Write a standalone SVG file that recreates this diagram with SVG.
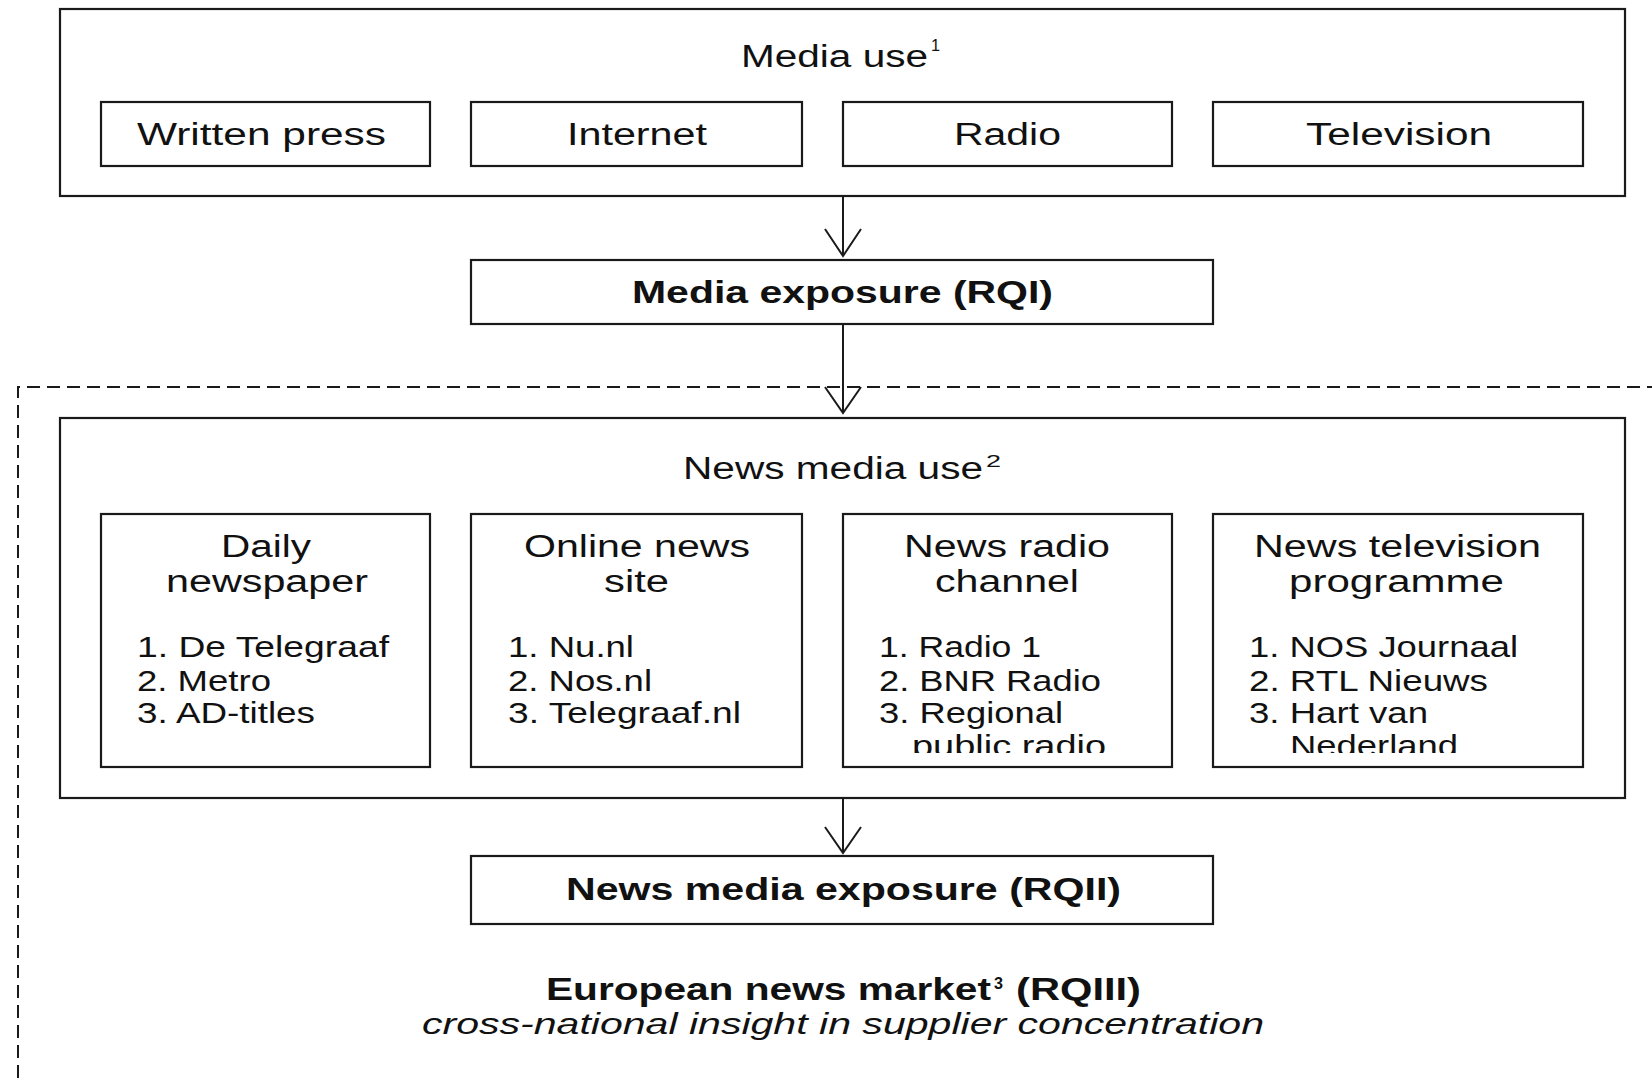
<svg xmlns="http://www.w3.org/2000/svg" width="1652" height="1085" viewBox="0 0 1652 1085">
<style>
text{font-family:"Liberation Sans",Arial,Helvetica,sans-serif;fill:#111;}
.t{font-size:31px;}
.l{font-size:29.5px;}
.b{font-weight:bold;font-size:31px;}
.i{font-style:italic;font-size:29px;}
.sup{font-size:17px;}
.box{fill:#fff;stroke:#1a1a1a;stroke-width:2.2;}
.conn{stroke:#1a1a1a;stroke-width:2;fill:none;}
.dash{stroke:#1a1a1a;stroke-width:2;fill:none;stroke-dasharray:13 7;}
</style>
<defs>
<clipPath id="c3"><rect x="843" y="514" width="329" height="239"/></clipPath>
<clipPath id="c4"><rect x="1213" y="514" width="370" height="239"/></clipPath>
</defs>
<rect width="1652" height="1085" fill="#fff"/>

<g id="scope">
<path class="dash" d="M1660,387 H18 V1090"/>
</g>

<g id="media-use">
<rect class="box" x="60" y="9" width="1565" height="187"/>
<text class="t" x="741" y="67" textLength="187" lengthAdjust="spacingAndGlyphs">Media use</text>
<text class="sup" x="931" y="51" textLength="9" lengthAdjust="spacingAndGlyphs">1</text>
</g>
<g id="written-press">
<rect class="box" x="101" y="102" width="329" height="64"/>
<text class="t" x="137" y="145" textLength="249" lengthAdjust="spacingAndGlyphs">Written press</text>
</g>
<g id="internet">
<rect class="box" x="471" y="102" width="331" height="64"/>
<text class="t" x="567" y="145" textLength="140" lengthAdjust="spacingAndGlyphs">Internet</text>
</g>
<g id="radio">
<rect class="box" x="843" y="102" width="329" height="64"/>
<text class="t" x="954" y="145" textLength="107" lengthAdjust="spacingAndGlyphs">Radio</text>
</g>
<g id="television">
<rect class="box" x="1213" y="102" width="370" height="64"/>
<text class="t" x="1306" y="145" textLength="186" lengthAdjust="spacingAndGlyphs">Television</text>
</g>

<g id="media-exposure">
<rect class="box" x="471" y="260" width="742" height="64"/>
<text class="b" x="632" y="303" textLength="421" lengthAdjust="spacingAndGlyphs">Media exposure (RQI)</text>
</g>

<g id="news-media-use">
<rect class="box" x="60" y="418" width="1565" height="380"/>
<text class="t" x="683" y="479" textLength="300" lengthAdjust="spacingAndGlyphs">News media use</text>
<text class="sup" x="986" y="467" textLength="15" lengthAdjust="spacingAndGlyphs">2</text>
</g>
<g id="daily-newspaper">
<rect class="box" x="101" y="514" width="329" height="253"/>
<text class="t" x="221" y="557" textLength="90" lengthAdjust="spacingAndGlyphs">Daily</text>
<text class="t" x="166" y="592" textLength="202" lengthAdjust="spacingAndGlyphs">newspaper</text>
<text class="l" x="137" y="657" textLength="252" lengthAdjust="spacingAndGlyphs">1. De Telegraaf</text>
<text class="l" x="137" y="691" textLength="134" lengthAdjust="spacingAndGlyphs">2. Metro</text>
<text class="l" x="137" y="723" textLength="178" lengthAdjust="spacingAndGlyphs">3. AD-titles</text>
</g>
<g id="online-news-site">
<rect class="box" x="471" y="514" width="331" height="253"/>
<text class="t" x="524" y="557" textLength="226" lengthAdjust="spacingAndGlyphs">Online news</text>
<text class="t" x="604" y="592" textLength="65" lengthAdjust="spacingAndGlyphs">site</text>
<text class="l" x="508" y="657" textLength="126" lengthAdjust="spacingAndGlyphs">1. Nu.nl</text>
<text class="l" x="508" y="691" textLength="144" lengthAdjust="spacingAndGlyphs">2. Nos.nl</text>
<text class="l" x="508" y="723" textLength="233" lengthAdjust="spacingAndGlyphs">3. Telegraaf.nl</text>
</g>
<g id="news-radio-channel">
<rect class="box" x="843" y="514" width="329" height="253"/>
<text class="t" x="904" y="557" textLength="206" lengthAdjust="spacingAndGlyphs">News radio</text>
<text class="t" x="935" y="592" textLength="144" lengthAdjust="spacingAndGlyphs">channel</text>
<text class="l" x="879" y="657" textLength="162" lengthAdjust="spacingAndGlyphs">1. Radio 1</text>
<text class="l" x="879" y="691" textLength="222" lengthAdjust="spacingAndGlyphs">2. BNR Radio</text>
<text class="l" x="879" y="723" textLength="184" lengthAdjust="spacingAndGlyphs">3. Regional</text>
<text class="l" x="912" y="756" textLength="194" lengthAdjust="spacingAndGlyphs" clip-path="url(#c3)">public radio</text>
</g>
<g id="news-television-programme">
<rect class="box" x="1213" y="514" width="370" height="253"/>
<text class="t" x="1254" y="557" textLength="287" lengthAdjust="spacingAndGlyphs">News television</text>
<text class="t" x="1289" y="592" textLength="215" lengthAdjust="spacingAndGlyphs">programme</text>
<text class="l" x="1249" y="657" textLength="269" lengthAdjust="spacingAndGlyphs">1. NOS Journaal</text>
<text class="l" x="1249" y="691" textLength="239" lengthAdjust="spacingAndGlyphs">2. RTL Nieuws</text>
<text class="l" x="1249" y="723" textLength="179" lengthAdjust="spacingAndGlyphs">3. Hart van</text>
<text class="l" x="1290" y="756" textLength="168" lengthAdjust="spacingAndGlyphs" clip-path="url(#c4)">Nederland</text>
</g>

<g id="news-media-exposure">
<rect class="box" x="471" y="856" width="742" height="68"/>
<text class="b" x="566" y="900" textLength="555" lengthAdjust="spacingAndGlyphs">News media exposure (RQII)</text>
</g>

<g id="european-news-market">
<text class="b" x="546" y="1000" textLength="445" lengthAdjust="spacingAndGlyphs">European news market</text>
<text class="sup" x="994" y="989" font-weight="bold" textLength="9" lengthAdjust="spacingAndGlyphs">3</text>
<text class="b" x="1016" y="1000" textLength="125" lengthAdjust="spacingAndGlyphs">(RQIII)</text>
<text class="i" x="422" y="1034" textLength="842" lengthAdjust="spacingAndGlyphs">cross-national insight in supplier concentration</text>
</g>

<g id="connectors">
<path class="conn" d="M843,196 V256 M825,229 L843,256 L861,229"/>
<path class="conn" d="M843,324 V413 M825,387 L843,413 L861,387"/>
<path class="conn" d="M843,798 V853 M825,827 L843,853 L861,827"/>
</g>
</svg>
